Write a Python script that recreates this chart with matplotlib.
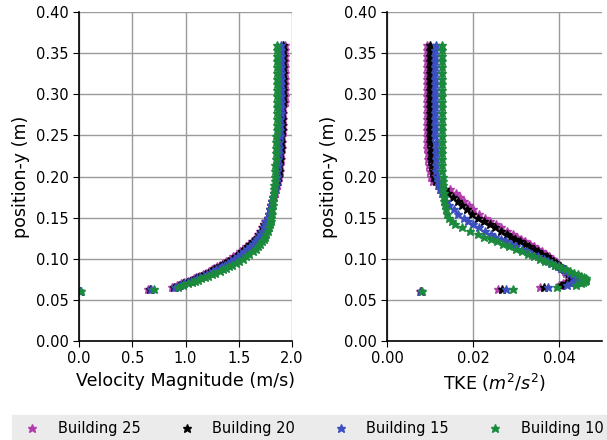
import matplotlib
matplotlib.use("Agg")
import matplotlib.pyplot as plt
from matplotlib.ticker import MultipleLocator
from matplotlib.lines import Line2D

# ---- data ----
labels = ["Building 25", "Building 20", "Building 15", "Building 10"]
colors = ["#b13cac", "#000000", "#3b4fbf", "#1b8a3c"]

y_pos = [
    0.061, 0.063, 0.066,
    0.0685, 0.070, 0.0715, 0.073, 0.0745, 0.076, 0.0775,
    0.079, 0.081, 0.083, 0.085, 0.087, 0.089, 0.091, 0.093, 0.095,
    0.0975, 0.100,
    0.103, 0.106, 0.109, 0.112, 0.115, 0.118, 0.121, 0.124, 0.127, 0.130,
    0.134, 0.138, 0.142, 0.146, 0.150,
    0.155, 0.160, 0.165, 0.170, 0.175, 0.180, 0.185, 0.190, 0.195, 0.200,
    0.207, 0.214, 0.221, 0.228, 0.235, 0.242, 0.249, 0.256, 0.263, 0.270,
    0.277, 0.284, 0.291, 0.298, 0.305, 0.312, 0.319, 0.326, 0.333, 0.340,
    0.347, 0.354, 0.360]

vel_b25 = [
    0.01, 0.65, 0.87,
    0.92, 0.96, 0.99, 1.02, 1.05, 1.08, 1.10,
    1.13, 1.16, 1.19, 1.22, 1.25, 1.27, 1.30, 1.32, 1.35,
    1.38, 1.42,
    1.45, 1.48, 1.51, 1.54, 1.57, 1.60, 1.62, 1.65, 1.67, 1.68,
    1.70, 1.72, 1.74, 1.75, 1.77,
    1.78, 1.79, 1.80, 1.81, 1.83, 1.84, 1.85, 1.86, 1.87, 1.88,
    1.89, 1.89, 1.90, 1.90, 1.91, 1.91, 1.91, 1.92, 1.92, 1.92,
    1.92, 1.92, 1.93, 1.93, 1.93, 1.93, 1.93, 1.93, 1.93, 1.93,
    1.93, 1.93, 1.93]
vel_b20 = [
    0.01, 0.67, 0.89,
    0.94, 0.98, 1.01, 1.04, 1.07, 1.10, 1.12,
    1.15, 1.18, 1.21, 1.24, 1.27, 1.29, 1.32, 1.34, 1.37,
    1.40, 1.44,
    1.47, 1.50, 1.53, 1.56, 1.59, 1.61, 1.63, 1.66, 1.68, 1.69,
    1.71, 1.73, 1.74, 1.76, 1.77,
    1.78, 1.79, 1.80, 1.81, 1.82, 1.83, 1.84, 1.85, 1.86, 1.87,
    1.88, 1.88, 1.89, 1.89, 1.90, 1.90, 1.90, 1.91, 1.91, 1.91,
    1.91, 1.91, 1.92, 1.92, 1.92, 1.92, 1.92, 1.92, 1.92, 1.92,
    1.92, 1.92, 1.92]
vel_b15 = [
    0.01, 0.68, 0.90,
    0.95, 0.99, 1.02, 1.05, 1.08, 1.11, 1.14,
    1.17, 1.20, 1.23, 1.26, 1.29, 1.32, 1.34, 1.37, 1.40,
    1.43, 1.46,
    1.49, 1.52, 1.55, 1.58, 1.61, 1.63, 1.65, 1.67, 1.69, 1.70,
    1.72, 1.74, 1.75, 1.76, 1.77,
    1.78, 1.79, 1.80, 1.81, 1.82, 1.83, 1.84, 1.85, 1.85, 1.86,
    1.86, 1.87, 1.87, 1.88, 1.88, 1.88, 1.89, 1.89, 1.89, 1.89,
    1.90, 1.90, 1.90, 1.90, 1.90, 1.90, 1.90, 1.90, 1.90, 1.90,
    1.90, 1.90, 1.90]
vel_b10 = [
    0.02, 0.70, 0.93,
    0.98, 1.02, 1.06, 1.09, 1.12, 1.15, 1.18,
    1.21, 1.25, 1.28, 1.32, 1.35, 1.38, 1.41, 1.44, 1.47,
    1.50, 1.54,
    1.57, 1.60, 1.63, 1.66, 1.68, 1.70, 1.72, 1.74, 1.75, 1.76,
    1.77, 1.78, 1.79, 1.80, 1.80,
    1.81, 1.81, 1.82, 1.82, 1.82, 1.83, 1.83, 1.83, 1.84, 1.84,
    1.84, 1.84, 1.85, 1.85, 1.85, 1.85, 1.85, 1.86, 1.86, 1.86,
    1.86, 1.86, 1.86, 1.86, 1.86, 1.86, 1.86, 1.86, 1.86, 1.86,
    1.86, 1.86, 1.86]

tke_b25 = [
    0.0077, 0.0259, 0.0356,
    0.0400, 0.0410, 0.0417, 0.0422, 0.0425, 0.0426, 0.0425,
    0.0423, 0.0420, 0.0417, 0.0414, 0.0411, 0.0407, 0.0403, 0.0399, 0.0395,
    0.0390, 0.0385,
    0.0377, 0.0369, 0.0360, 0.0351, 0.0342, 0.0332, 0.0322, 0.0312, 0.0302, 0.0292,
    0.0279, 0.0266, 0.0253, 0.0240, 0.0228,
    0.0214, 0.0201, 0.0190, 0.0180, 0.0170, 0.0160, 0.0146, 0.0118, 0.0108, 0.0103,
    0.0100, 0.0098, 0.0096, 0.0095, 0.0094, 0.0094, 0.0093, 0.0093, 0.0093, 0.0092,
    0.0092, 0.0092, 0.0092, 0.0092, 0.0092, 0.0092, 0.0092, 0.0092, 0.0092, 0.0092,
    0.0092, 0.0092, 0.0093]
tke_b20 = [
    0.0078, 0.0267, 0.0364,
    0.0405, 0.0416, 0.0424, 0.0430, 0.0434, 0.0435, 0.0434,
    0.0431, 0.0427, 0.0423, 0.0418, 0.0413, 0.0408, 0.0403, 0.0398, 0.0393,
    0.0387, 0.0380,
    0.0371, 0.0361, 0.0351, 0.0341, 0.0331, 0.0320, 0.0309, 0.0298, 0.0288, 0.0278,
    0.0265, 0.0252, 0.0239, 0.0226, 0.0212,
    0.0198, 0.0186, 0.0175, 0.0164, 0.0153, 0.0143, 0.0134, 0.0121, 0.0113, 0.0109,
    0.0106, 0.0104, 0.0103, 0.0102, 0.0102, 0.0101, 0.0101, 0.0101, 0.0100, 0.0100,
    0.0100, 0.0100, 0.0100, 0.0100, 0.0100, 0.0100, 0.0100, 0.0100, 0.0100, 0.0100,
    0.0100, 0.0100, 0.0101]
tke_b15 = [
    0.0079, 0.0276, 0.0375,
    0.0418, 0.0429, 0.0436, 0.0441, 0.0443, 0.0443, 0.0441,
    0.0437, 0.0432, 0.0426, 0.0419, 0.0412, 0.0405, 0.0398, 0.0391, 0.0384,
    0.0374, 0.0364,
    0.0351, 0.0338, 0.0326, 0.0313, 0.0301, 0.0289, 0.0276, 0.0264, 0.0252, 0.0241,
    0.0227, 0.0213, 0.0200, 0.0189, 0.0178,
    0.0166, 0.0155, 0.0145, 0.0138, 0.0132, 0.0127, 0.0123, 0.0120, 0.0118, 0.0116,
    0.0115, 0.0114, 0.0114, 0.0113, 0.0113, 0.0113, 0.0112, 0.0112, 0.0112, 0.0112,
    0.0112, 0.0112, 0.0112, 0.0112, 0.0112, 0.0112, 0.0112, 0.0112, 0.0112, 0.0112,
    0.0112, 0.0112, 0.0113]
tke_b10 = [
    0.0081, 0.0294, 0.0395,
    0.0440, 0.0450, 0.0456, 0.0460, 0.0462, 0.0462, 0.0459,
    0.0452, 0.0444, 0.0435, 0.0426, 0.0417, 0.0408, 0.0399, 0.0390, 0.0381,
    0.0368, 0.0356,
    0.0342, 0.0328, 0.0313, 0.0299, 0.0284, 0.0270, 0.0255, 0.0241, 0.0226, 0.0212,
    0.0193, 0.0175, 0.0159, 0.0150, 0.0145,
    0.0140, 0.0137, 0.0135, 0.0133, 0.0132, 0.0132, 0.0131, 0.0131, 0.0130, 0.0130,
    0.0129, 0.0129, 0.0128, 0.0128, 0.0128, 0.0127, 0.0127, 0.0127, 0.0127, 0.0127,
    0.0127, 0.0127, 0.0127, 0.0127, 0.0127, 0.0127, 0.0127, 0.0127, 0.0127, 0.0127,
    0.0127, 0.0127, 0.0127]

vel_series = [vel_b25, vel_b20, vel_b15, vel_b10]
tke_series = [tke_b25, tke_b20, tke_b15, tke_b10]

# ---- figure ----
plt.rcParams['font.family'] = ['DejaVu Sans']
fig = plt.figure(figsize=(6.07, 4.40), dpi=100)
W, H = 607.0, 440.0
ax1 = fig.add_axes([79 / W, 1 - 341 / H, (292 - 79) / W, (341 - 12) / H])
ax2 = fig.add_axes([387 / W, 1 - 341 / H, (602 - 387) / W, (341 - 12) / H])

ms = 6.3
for xs, c in zip(vel_series, colors):
    ax1.plot(xs, y_pos, linestyle='none', marker='*', ms=ms, color=c)
for xs, c in zip(tke_series, colors):
    ax2.plot(xs, y_pos, linestyle='none', marker='*', ms=ms, color=c)

for ax in (ax1, ax2):
    ax.set_ylim(0, 0.40)
    ax.yaxis.set_major_locator(MultipleLocator(0.05))
    ax.yaxis.set_major_formatter(matplotlib.ticker.FormatStrFormatter('%.2f'))
    ax.grid(True, color='#9a9a9a', linewidth=1.0)
    ax.set_axisbelow(True)
    ax.spines['top'].set_visible(False)
    ax.spines['right'].set_visible(False)
    ax.spines['left'].set_linewidth(1.2)
    ax.spines['bottom'].set_linewidth(1.2)
    ax.tick_params(labelsize=10.5, length=4)
    ax.set_ylabel('position-y (m)', fontsize=12.6)

ax1.set_xlim(0, 2.0)
ax1.xaxis.set_major_locator(MultipleLocator(0.5))
ax1.set_xlabel('Velocity Magnitude (m/s)', fontsize=12.6)

ax2.set_xlim(0, 0.05)
ax2.xaxis.set_major_locator(MultipleLocator(0.02))
ax2.xaxis.set_major_formatter(matplotlib.ticker.FormatStrFormatter('%.2f'))
ax2.set_xlabel('TKE ($m^2/s^2$)', fontsize=12.6)

handles = [Line2D([], [], linestyle='none', marker='*', ms=ms, color=c) for c in colors]
leg = fig.legend(handles, labels, loc='upper left', bbox_to_anchor=(12 / W, 1 - 415 / H),
                 ncol=4, fontsize=10.5, frameon=True, fancybox=False,
                 facecolor='#ebebeb', edgecolor='#ebebeb', framealpha=1.0,
                 handlelength=2.0, handletextpad=0.75, columnspacing=2.15,
                 borderpad=0.4, borderaxespad=0.0)

fig.savefig('out.png', dpi=100)
